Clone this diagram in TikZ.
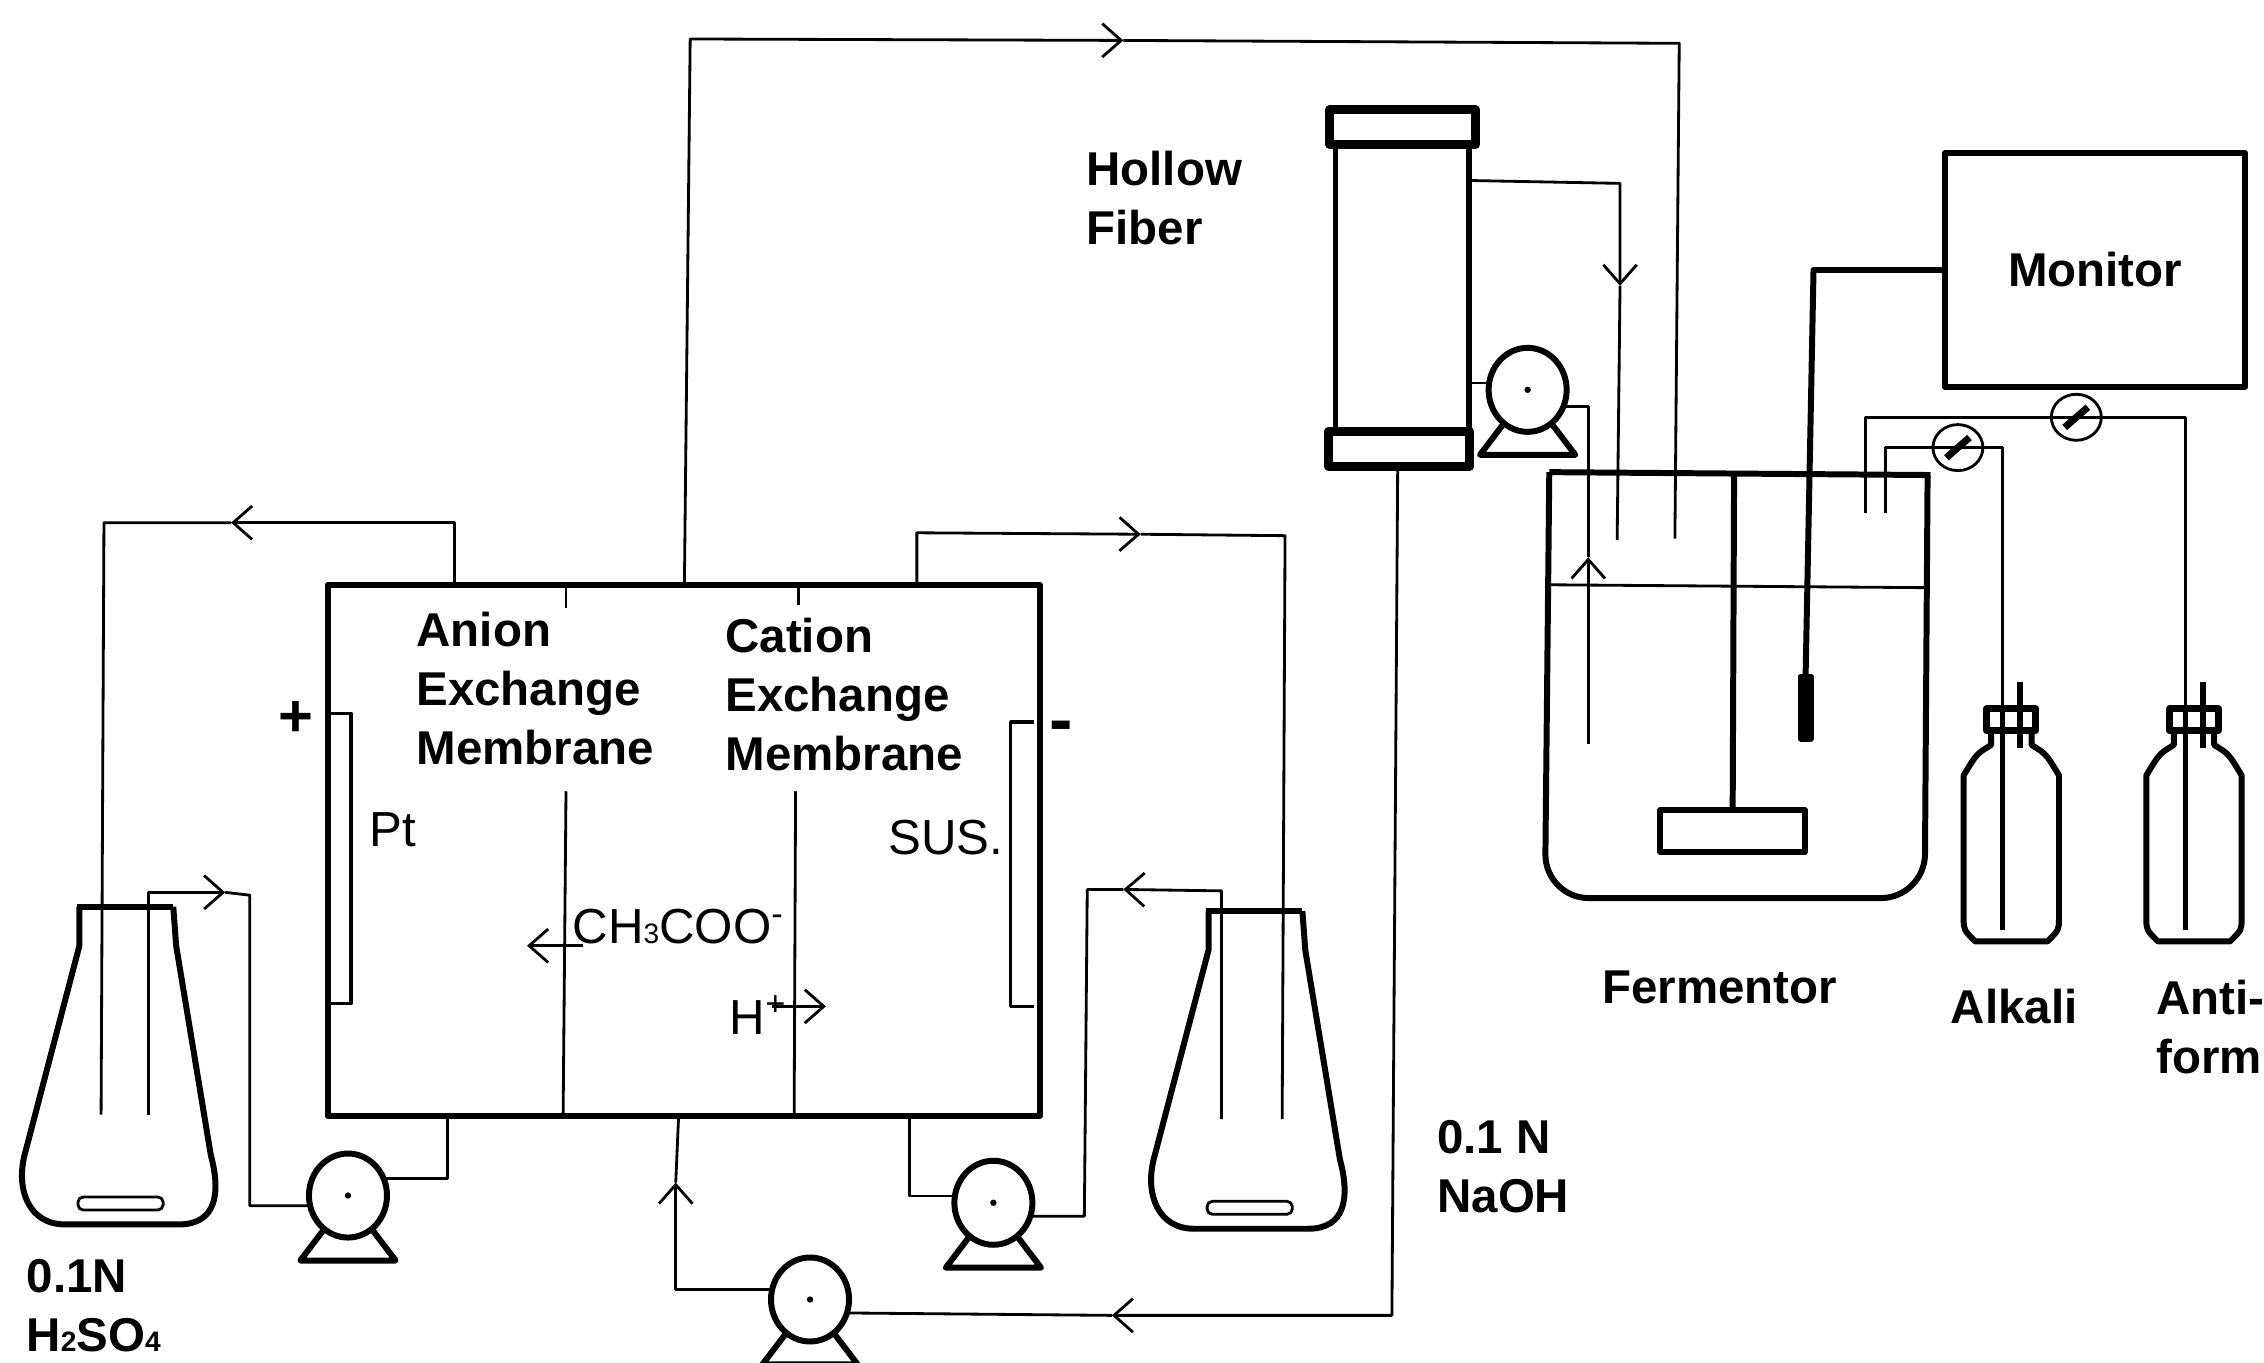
\documentclass[tikz,border=0pt]{standalone}
\usepackage{fontspec}
\setmainfont{Liberation Sans}
\usepackage{xcolor}
\usepackage{tikz}
\usetikzlibrary{arrows.meta,shapes.geometric}
\tikzset{fig/.style={line join=round,>={Straight Barb[length=5.4pt,width=9.5pt]}},
  flow/.style={line width=0.8pt},
  wall/.style={line width=1.7pt},
  fibercap/.style={line width=2.5pt},
  boxnode/.style={draw,wall,inner sep=0pt,outer sep=0pt},
  pumpnode/.style={ellipse,draw,wall,fill=white,inner sep=0pt,outer sep=0pt,minimum width=0.78cm,minimum height=0.84cm},
  valvenode/.style={ellipse,draw,flow,inner sep=0pt,outer sep=0pt,minimum width=0.5cm,minimum height=0.46cm},
  lbl/.style={font=\fontsize{13.5}{16.8}\selectfont\bfseries,inner sep=0pt,align=left},
  thinlbl/.style={font=\fontsize{14}{16.8}\selectfont,inner sep=0pt}}
\begin{document}
\begin{tikzpicture}[fig,x=0.014439cm,y=-0.014439cm]
  \useasboundingbox (0,0) rectangle (1568,943.3);
  % membrane cell
  \node[boxnode,minimum width=7.12cm,minimum height=5.31cm] (cell) at (473.5,589) {};
  \draw[flow] (392,405) -- (392,421);\draw[flow] (553,405) -- (553,419);
  \draw[flow] (392,548) -- (390,773);\draw[flow] (551,548) -- (550,773);
  \draw[line width=1pt] (228,494) -| (243,695) -- (228,695);
  \draw[line width=1pt] (716,500) -| (700,697) -- (716,697);
  \node[lbl] (anion) at (288,477) [anchor=west] {Anion\\Exchange\\Membrane};
  \node[lbl] (cation) at (502,481) [anchor=west] {Cation\\Exchange\\Membrane};
  \node[lbl,font=\fontsize{17}{17}\selectfont\bfseries] (plus) at (205,498) {+};
  \node[lbl,font=\fontsize{20}{20}\selectfont\bfseries] (minus) at (735,507) {-};
  \node[thinlbl] (pt) at (272,575) {Pt};\node[thinlbl] (sus) at (655,580) {SUS.};
  \node[thinlbl,anchor=west] (acetate) at (396,642) {CH{\footnotesize 3}COO\textsuperscript{-}};
  \node[thinlbl,anchor=west] (proton) at (505,703) {H\textsuperscript{+}};
  \draw[flow,->] (404,655) -- (365,655);
  \draw[flow,->] (535,697) -- (572,697);
  % flasks
  \foreach \fx/\fy in {0/0,782/3}{
    \begin{scope}[shift={(\fx,\fy)}]
      \draw[wall] (53,628) -- (120,628);
      \draw[wall] (55,628) -- (55,655) -- (17,800) .. controls (11,824) and (20,848) .. (45,848) -- (124,848) .. controls (150,848) and (153,826) .. (146,800) -- (122,655) -- (120,628);
      \draw[flow,rounded corners=1.5] (54,829) rectangle (113,838);
    \end{scope}}
  % pumps
  \foreach \pname/\px/\py in {pumpA/241/828,pumpB/688/833,pumpC/561/900,pumpD/1058/270}{
    \draw[wall] (\px-14,\py+20) -- (\px-33,\py+45) -- (\px+33,\py+45) -- (\px+14,\py+20);
    \node[pumpnode] (\pname) at (\px,\py) {};
    \fill (\pname.center) circle (2.2);}
  % acid and base circuits
  \coordinate (tubeA) at (70,772);\coordinate (tubeB) at (103,772);
  \coordinate (tubeC) at (846,775);\coordinate (tubeD) at (888,775);
  \draw[flow,->] (315,0 |- cell.north) |- (160,362);
  \draw[flow] (160,362) -- (72,362) -- (tubeA);
  \draw[flow,->] (tubeB) -- (103,618) -- (156,618);
  \draw[flow] (156,618) -- (173,620) |- (pumpA.195);
  \draw[flow] (pumpA.25) -| (310,0 |- cell.south);
  \draw[flow,->] (635,0 |- cell.north) -- (635,369) -- (790,370);
  \draw[flow] (790,370) -- (890,371) -- (tubeD);
  \draw[flow,->] (tubeC) -- (846,617) -- (778,616);
  \draw[flow] (778,616) -- (753,616) -- (751,0 |- pumpB.340) -- (pumpB.340);
  \draw[flow] (pumpB.170) -| (630,0 |- cell.south);
  % loop through the hollow fiber
  \draw[flow,->] (474,0 |- cell.north) -- (478,27) -- (778,28);
  \draw[flow] (778,28) -- (1163,30) -- (1160,373);
  \draw[flow,->] (968,325) -- (964,911) -- (770,911);
  \draw[flow] (770,911) -- (pumpC.340);
  \draw[flow,->] (pumpC.165) -| (468,819);
  \draw[flow] (468,819) -- (470,0 |- cell.south);
  \node[boxnode,minimum width=1.33cm,minimum height=3.57cm] (fiber) at (971,200) {};
  \draw[fibercap,fill=white] (921,76) rectangle (1022,100);
  \draw[fibercap,fill=white] (920,299) rectangle (1018,323);
  \draw[flow,->] (fiber.east |- 0,125) -- (1122,127) -- (1122,198);
  \draw[flow] (1122,198) -- (1120,374);
  \draw[flow] (pumpD.170) -- (fiber.east |- pumpD.170);
  \draw[flow,->] (1100,515) -- (1100,386);
  \draw[flow] (1100,386) |- (pumpD.335);
  % fermentor
  \draw[wall,rounded corners=12.5] (1073,327) -- (1070,622) -- (1333,622) -- (1335,329);
  \draw[wall] (1073,327) -- (1337,329);
  \draw[flow] (1073,405) -- (1333,407);
  \draw[wall] (1201,327) -- (1200,561);
  \draw[wall] (1150,561) rectangle (1250,590);
  \node[lbl] (fermentor) at (1191,684) {Fermentor};
  % monitor and probe
  \node[boxnode,lbl,minimum width=3cm,minimum height=2.34cm] (monitor) at (1451,187) {Monitor};
  \node[boxnode,fill=black,minimum width=0.1cm,minimum height=0.62cm] (probe) at (1250.5,490) {};
  \draw[wall] (monitor.west) -- (1256,187) -- (probe.north);
  % bottles and valves
  \foreach \bx in {1393,1519.5}{
    \draw[line width=2pt] (\bx-17,491) rectangle (\bx+17,506);
    \draw[wall] (\bx-14,506) -- (\bx-14,516) .. controls (\bx-24,522) .. (\bx-33,537) -- (\bx-33,636) .. controls (\bx-33,644) .. (\bx-25,652) -- (\bx+25,652) .. controls (\bx+33,644) .. (\bx+33,636) -- (\bx+33,537) .. controls (\bx+24,522) .. (\bx+14,516) -- (\bx+14,506);
    \draw[wall] (\bx+6,472) -- (\bx+6,518);
    \draw[line width=1.3pt] (\bx-6,491) -- (\bx-6,644);}
  \node[valvenode] (valveA) at (1356,310) {};
  \node[valvenode] (valveB) at (1438,289) {};
  \foreach \vname in {valveA,valveB}
    \draw[line width=2pt] ([shift={(-8,7)}]\vname.center) -- ([shift={(8,-7)}]\vname.center);
  \coordinate (tubeE) at (1387,491);\coordinate (tubeF) at (1513.5,491);
  \draw[flow] (1306,355) |- (valveA.center) -| (tubeE);
  \draw[flow] (1292,355) |- (valveB.center) -| (tubeF);
  \node[lbl] (alkali) at (1395,697) {Alkali};
  \node[lbl,anchor=west] (antiform) at (1493,711) {Anti-\\form};
  % other labels
  \node[lbl,anchor=west] (hollow) at (752,137) {Hollow\\Fiber};
  \node[lbl,anchor=west] (naoh) at (995,808) {0.1 N\\NaOH};
  \node[lbl,anchor=west] (acid) at (18,904) {0.1N\\H{\footnotesize 2}SO{\footnotesize 4}};
\end{tikzpicture}
\end{document}
